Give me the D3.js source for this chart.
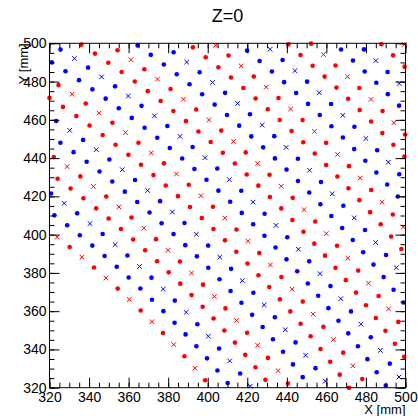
<!DOCTYPE html>
<html>
<head>
<meta charset="utf-8">
<script src="https://cdn.jsdelivr.net/npm/d3@7"></script>
<style>
  html, body { margin: 0; padding: 0; background: #fff; }
  svg { display: block; }
  text { font-family: "Liberation Sans", Arial, Helvetica, sans-serif; fill: #000; }
</style>
</head>
<body>
<svg id="chart" width="418" height="416"></svg>
<script>
// ---- data: wire rings seen in the Z=0 plane (radius in mm) ----
const ringRadius = [513.7, 521.7, 529.7, 537.8, 545.8, 553.8, 561.8, 569.8, 577.9, 585.9,
                    593.9, 601.9, 609.9, 617.9, 626.0, 634.0, 642.0, 650.0, 658.1, 666.1,
                    674.1, 682.1, 690.1, 698.2, 706.2];
const ringWires  = [396, 396, 396, 408, 408, 420, 420, 432, 432, 444,
                    444, 456, 456, 468, 468, 480, 480, 492, 492, 504,
                    504, 516, 516, 528, 528];
const ringStereo = [1, -1, -1, 1, 1, -1, -1, 1, 1, -1,
                    -1, 1, 1, -1, -1, 1, 1, -1, -1, 1,
                    1, -1, -1, 1, 1];
const ringKind   = ["sense", "field", "sense", "field", "sense", "field", "sense", "field", "sense", "field",
                    "sense", "field", "sense", "field", "sense", "field", "sense", "field", "sense", "field",
                    "sense", "field", "sense", "field", "sense"];
// parity of wire index that carries the "x" marker on sense rings
const senseParity = [0, null, 1, null, 0, null, 1, null, 0, null,
                     1, null, 0, null, 1, null, 0, null, 1, null,
                     0, null, 1, null, 0];
const xTicks = [320, 340, 360, 380, 400, 420, 440, 460, 480, 500];
const yTicks = [320, 340, 360, 380, 400, 420, 440, 460, 480, 500];
const xMinor = d3.range(320, 500.1, 5);
const yMinor = d3.range(320, 500.1, 5);
const titleText = "Z=0";
const xTitle = "X [mm]";
const yTitle = "Y [mm]";

// ---- layout ----
const L = 49.5, R = 405.5, T = 43.3, B = 387.7;
const x = d3.scaleLinear().domain([320, 500]).range([L, R]);
const y = d3.scaleLinear().domain([320, 500]).range([B, T]);
const color = d3.scaleOrdinal().domain([1, -1]).range(["#ff0000", "#0000ff"]);

const svg = d3.select("#chart");
svg.append("rect").attr("width", 418).attr("height", 416).attr("fill", "#fff");

// ---- build wire list from ring geometry ----
const wires = [];
ringRadius.forEach((r, q) => {
  const N = ringWires[q];
  for (let n = 0; n < N; n++) {
    const phi = 2 * Math.PI * n / N;
    const wx = r * Math.cos(phi), wy = r * Math.sin(phi);
    if (wx < 320 || wx > 500 || wy < 320 || wy > 500) continue;
    const cross = ringKind[q] === "sense" && (n % 2) === senseParity[q];
    wires.push({ x: wx, y: wy, s: ringStereo[q], cross });
  }
});

const g = svg.append("g");
g.selectAll("circle.dot").data(wires.filter(d => !d.cross)).join("circle")
  .attr("class", "dot")
  .attr("cx", d => x(d.x)).attr("cy", d => y(d.y)).attr("r", 2.3)
  .attr("fill", d => color(d.s));
const cs = 2.3;
g.selectAll("path.cross").data(wires.filter(d => d.cross)).join("path")
  .attr("class", "cross")
  .attr("d", d => {
    const cx = x(d.x), cy = y(d.y);
    return `M${cx - cs},${cy - cs}L${cx + cs},${cy + cs}M${cx - cs},${cy + cs}L${cx + cs},${cy - cs}`;
  })
  .attr("stroke", d => color(d.s)).attr("stroke-width", 1).attr("fill", "none");

// ---- axes ----
function styleAxis(sel) {
  sel.select(".domain").remove();
  sel.selectAll(".tick line").attr("stroke", "#000").attr("stroke-width", 1);
  sel.selectAll("text").attr("font-size", 14).attr("fill", "#000")
     .attr("font-family", "Liberation Sans, Arial, sans-serif");
}
// bottom
svg.append("g").attr("transform", `translate(0,${B})`)
  .call(d3.axisBottom(x).tickValues(xMinor).tickSizeInner(-5).tickSizeOuter(0).tickFormat(""))
  .call(styleAxis);
svg.append("g").attr("transform", `translate(0,${B})`)
  .call(d3.axisBottom(x).tickValues(xTicks).tickSizeInner(-10).tickSizeOuter(0).tickPadding(4).tickFormat(d3.format("d")))
  .call(styleAxis);
// top
svg.append("g").attr("transform", `translate(0,${T})`)
  .call(d3.axisTop(x).tickValues(xMinor).tickSizeInner(-5).tickSizeOuter(0).tickFormat(""))
  .call(styleAxis);
svg.append("g").attr("transform", `translate(0,${T})`)
  .call(d3.axisTop(x).tickValues(xTicks).tickSizeInner(-10).tickSizeOuter(0).tickFormat(""))
  .call(styleAxis);
// left
svg.append("g").attr("transform", `translate(${L},0)`)
  .call(d3.axisLeft(y).tickValues(yMinor).tickSizeInner(-5).tickSizeOuter(0).tickFormat(""))
  .call(styleAxis);
svg.append("g").attr("transform", `translate(${L},0)`)
  .call(d3.axisLeft(y).tickValues(yTicks).tickSizeInner(-10).tickSizeOuter(0).tickPadding(3).tickFormat(d3.format("d")))
  .call(styleAxis);
// right
svg.append("g").attr("transform", `translate(${R},0)`)
  .call(d3.axisRight(y).tickValues(yMinor).tickSizeInner(-5).tickSizeOuter(0).tickFormat(""))
  .call(styleAxis);
svg.append("g").attr("transform", `translate(${R},0)`)
  .call(d3.axisRight(y).tickValues(yTicks).tickSizeInner(-10).tickSizeOuter(0).tickFormat(""))
  .call(styleAxis);

// frame
svg.append("rect").attr("x", L).attr("y", T).attr("width", R - L).attr("height", B - T)
  .attr("fill", "none").attr("stroke", "#000").attr("stroke-width", 1);

// titles
svg.append("text").attr("x", (L + R) / 2).attr("y", 21.5).attr("text-anchor", "middle")
  .attr("font-size", 18).text(titleText);
svg.append("text").attr("x", R).attr("y", 414).attr("text-anchor", "end")
  .attr("font-size", 13).text(xTitle);
svg.append("text").attr("transform", `translate(28,${T}) rotate(-90)`).attr("text-anchor", "end")
  .attr("font-size", 13).text(yTitle);
</script>
</body>
</html>
